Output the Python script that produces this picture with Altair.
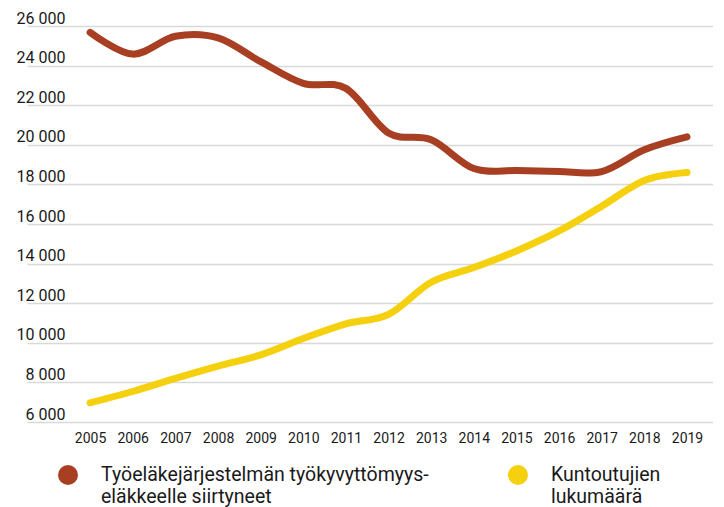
import altair as alt
import pandas as pd

years = list(range(2005, 2020))
pension = [25680, 24580, 25480, 25400, 24200, 23100, 22850, 20600, 20250, 18800, 18700, 18650, 18650, 19750, 20400]
rehab = [6970, 7540, 8200, 8820, 9390, 10220, 10960, 11440, 13060, 13800, 14640, 15650, 16900, 18200, 18600]
series_names = ["Työeläkejärjestelmän työkyvyttömyyseläkkeelle siirtyneet", "Kuntoutujien lukumäärä"]
legend_lines = [["Työeläkejärjestelmän työkyvyttömyys-", "eläkkeelle siirtyneet"], ["Kuntoutujien", "lukumäärä"]]
colors = ["#A83F22", "#F5D00F"]
y_ticks = list(range(6000, 26001, 2000))

rows = []
for yr, a, b in zip(years, pension, rehab):
    rows.append({"year": yr, "value": a, "series": series_names[0], "col": colors[0]})
    rows.append({"year": yr, "value": b, "series": series_names[1], "col": colors[1]})
df = pd.DataFrame(rows)

def arr(lines):
    return "[" + ", ".join("'" + s + "'" for s in lines) + "]"

label_expr = (
    "datum.label == '" + series_names[0] + "' ? " + arr(legend_lines[0]) + " : " + arr(legend_lines[1])
)

x_enc = alt.X(
    "year:Q",
    scale=alt.Scale(domain=[2003.52, 2019.61], nice=False, zero=False),
    axis=alt.Axis(
        values=years, format="d", title=None, grid=False, domain=False, ticks=False,
        tickSize=0, labelPadding=9, labelFont="Roboto", labelFontSize=14,
        labelColor="#1a1a1a", labelFlush=False, labelOverlap=False,
    ),
)
y_enc = alt.Y(
    "value:Q",
    scale=alt.Scale(domain=[6000, 26000], nice=False, zero=False),
    axis=alt.Axis(
        values=y_ticks, title=None, grid=True, gridColor="#d9d9d9", gridWidth=1.5,
        domain=False, ticks=False, tickSize=0, labelPadding=-38, labelAlign="right",
        labelBaseline="alphabetic", labelOffset=-3, labelFont="Roboto", labelFontSize=16,
        labelColor="#1a1a1a", labelExpr="replace(format(datum.value, ','), ',', ' ')",
    ),
)

base = alt.Chart(df)

lines = base.mark_line(strokeWidth=7, strokeCap="round", interpolate="cardinal").encode(
    x=x_enc, y=y_enc,
    stroke=alt.Stroke("col:N", scale=None),
    detail="series:N",
)

points = base.mark_point(filled=True, shape="circle", size=0).encode(
    x=x_enc,
    y=y_enc,
    fill=alt.Fill(
        "series:N",
        scale=alt.Scale(domain=series_names, range=colors),
        legend=alt.Legend(
            title=None, orient="none", legendX=31, legendY=439, direction="horizontal",
            columns=2, symbolType="circle", symbolSize=400, symbolStrokeWidth=0,
            symbolOpacity=1, labelOffset=23, columnPadding=79, labelFont="Roboto",
            labelFontSize=19.5, labelColor="#1a1a1a", labelLimit=600, labelBaseline="middle",
            labelExpr=label_expr, padding=0, offset=0,
        ),
    ),
)

chart = (
    alt.layer(lines, points)
    .properties(
        width=686, height=396,
        autosize=alt.AutoSizeParams(type="none"),
        padding={"left": 19, "top": 18, "right": 0, "bottom": 85},
    )
    .configure_view(stroke=None)
)

chart.save("out.html", embed_options={"renderer": "svg", "actions": False})
